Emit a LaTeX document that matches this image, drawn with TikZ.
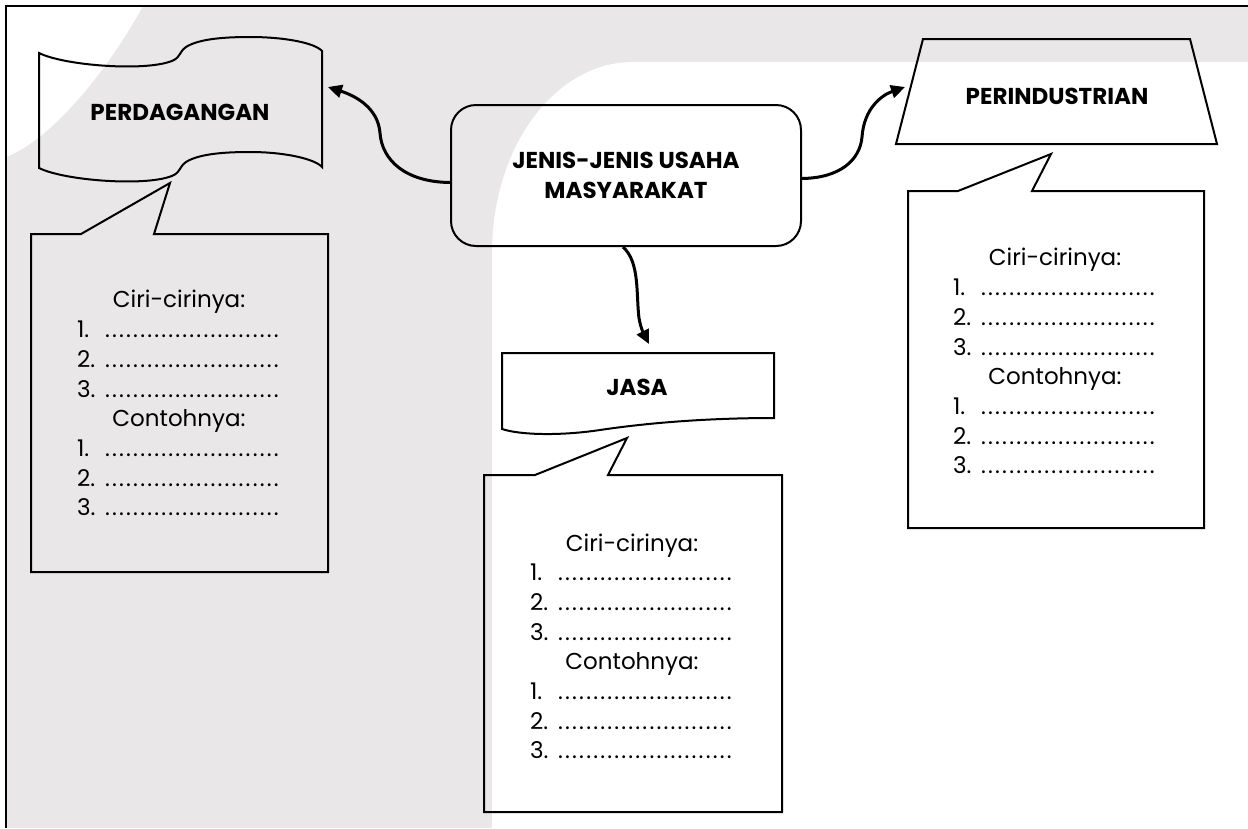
\documentclass[tikz,border=0pt]{standalone}
\usepackage{fontspec}
\setmainfont{Poppins}
\usetikzlibrary{arrows.meta}
\definecolor{bggray}{RGB}{233,231,232}
\newcommand\dd{.\kern2.2pt}
\newcommand\dotitem[1]{\makebox[28pt][l]{#1.}\dd\dd\dd\dd\dd\dd\dd\dd\dd\dd\dd\dd\dd\dd\dd\dd\dd\dd\dd\dd\dd\dd\dd\dd\dd}
\newcommand\listtext{\begin{tabular}{@{}l@{}}\multicolumn{1}{@{}c@{}}{Ciri-cirinya:}\\\dotitem1\\\dotitem2\\\dotitem3\\\multicolumn{1}{@{}c@{}}{Contohnya:}\\\dotitem1\\\dotitem2\\\dotitem3\end{tabular}}
\tikzset{
  outline/.style={line width=2pt, line join=miter},
  arr/.style={line width=3pt, -{Triangle[length=14pt,width=13pt]}},
  lbl/.style={font=\bfseries\fontsize{23}{30}\selectfont, align=center},
  listnode/.style={font=\fontsize{23}{29.7}\selectfont, inner sep=0pt},
}
\begin{document}
\begin{tikzpicture}[x=1pt,y=-1pt]
\useasboundingbox (0,0) rectangle (1248,828);
% background
\fill[bggray] (6,6) rectangle (1248,828);
\fill[white] (6,6) -- (6,157) .. controls (50,140) and (105,75) .. (143,6) -- cycle;
\fill[white] (492,828) -- (492,253) .. controls (492,147) and (555,62) .. (633,62) -- (1248,62) -- (1248,828) -- cycle;
\draw[line width=2pt] (6,828) -- (6,6) -- (1248,6);
% PERDAGANGAN banner
\draw[outline] (39,53) .. controls (65,66) and (150,72) .. (174,60) .. controls (181,56) and (179,52) .. (186,47)
  .. controls (200,38) and (230,37) .. (250,37) .. controls (285,37) and (315,43) .. (322,51)
  -- (322,167) .. controls (315,159) and (285,152) .. (250,152) .. controls (230,152) and (200,153) .. (186,162)
  .. controls (179,167) and (181,171) .. (174,175) .. controls (150,187) and (65,181) .. (39,168) -- cycle;
\node[lbl] (perdlbl) at (180,112) {PERDAGANGAN};
\coordinate (perdtip) at (328,87);
% central box
\node[draw, outline, rounded corners=25pt, minimum width=350pt, minimum height=141pt, lbl] (main) at (626,175.5) {JENIS-JENIS USAHA\\MASYARAKAT};
% PERINDUSTRIAN trapezium
\draw[outline] (923,39) -- (1190,39) -- (1217,144) -- (896,144) -- cycle;
\node[lbl] (perilbl) at (1057,96) {PERINDUSTRIAN};
\coordinate (peritip) at (905,87);
% JASA document shape
\draw[outline] (502,353) -- (774,353) -- (774,418) .. controls (700,418) and (640,424) .. (600,430) .. controls (560,436) and (520,435) .. (502,429) -- cycle;
\node[lbl] (jasalbl) at (637,387) {JASA};
\coordinate (jasatip) at (649,344);
% arrows
\draw[arr] ([yshift=-7pt]main.west) .. controls (405,182) and (382,160) .. (380,133) .. controls (378,108) and (356,96) .. (perdtip);
\draw[arr] ([yshift=-3pt]main.east) .. controls (840,178) and (860,160) .. (862,137) .. controls (864,108) and (882,95) .. (peritip);
\draw[arr] ([xshift=-3pt]main.south) .. controls (640,262) and (636,295) .. (639,318) .. controls (641,330) and (645,336) .. (jasatip);
% callouts
\draw[outline] (31,234) -- (81,234) -- (170,183) -- (154,234) -- (328,234) -- (328,572) -- (31,572) -- cycle;
\draw[outline] (484,475) -- (535,475) -- (627,438) -- (608,475) -- (782,475) -- (782,812) -- (484,812) -- cycle;
\draw[outline] (908,191) -- (958,191) -- (1051,154) -- (1032,191) -- (1204,191) -- (1204,528) -- (908,528) -- cycle;
% lists
\node[listnode] (list1) at (179,406) {\listtext};
\node[listnode] (list2) at (632,649) {\listtext};
\node[listnode] (list3) at (1055,364) {\listtext};
\end{tikzpicture}
\end{document}
